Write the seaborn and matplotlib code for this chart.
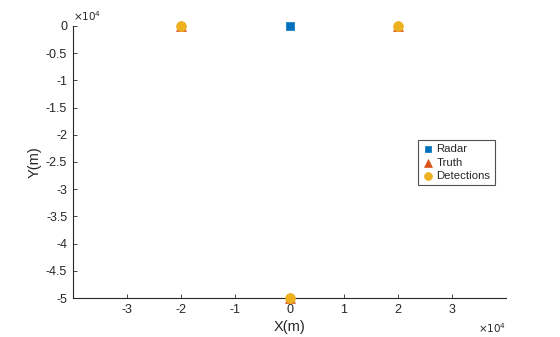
import matplotlib
matplotlib.use("Agg")
import matplotlib.pyplot as plt
import seaborn as sns
import pandas as pd

radar_x = [0]
radar_y = [0]
truth_x = [-20000, 20000, 0]
truth_y = [0, 0, -50000]
det_x = [-20000, 20000, 0]
det_y = [0, 0, -50000]
xticks = [-3, -2, -1, 0, 1, 2, 3]
yticks = [0, -0.5, -1, -1.5, -2, -2.5, -3, -3.5, -4, -4.5, -5]

sns.set_style("white")
plt.rcParams['font.family'] = ['Liberation Sans', 'DejaVu Sans']

fig = plt.figure(figsize=(5.6, 3.37), dpi=100)
ax = fig.add_axes([0.130, 0.1157, 0.774, 0.8073])

df_r = pd.DataFrame({"x": radar_x, "y": radar_y})
df_t = pd.DataFrame({"x": truth_x, "y": truth_y})
df_d = pd.DataFrame({"x": det_x, "y": det_y})

sns.scatterplot(data=df_r, x="x", y="y", marker="s", s=28, color="#0072BD",
                edgecolor="#0072BD", linewidth=0.5, ax=ax, label="Radar", clip_on=False, zorder=3)
sns.scatterplot(data=df_t, x="x", y="y", marker="^", s=50, color="#D95319",
                edgecolor="#D95319", linewidth=0.5, ax=ax, label="Truth", clip_on=False, zorder=3)
sns.scatterplot(data=df_d, x="x", y="y", marker="o", s=50, color="#EDB120",
                edgecolor="#EDB120", linewidth=0.5, ax=ax, label="Detections", clip_on=False, zorder=4)

ax.set_xlim(-40000, 40000)
ax.set_ylim(-50000, 0)
ax.set_xticks([v * 1e4 for v in xticks])
ax.set_xticklabels([f"{v:g}" for v in xticks])
ax.set_yticks([v * 1e4 for v in yticks])
ax.set_yticklabels([f"{v:g}" for v in yticks])

for s in ["top", "right"]:
    ax.spines[s].set_visible(False)
for s in ["left", "bottom"]:
    ax.spines[s].set_color("#262626")
    ax.spines[s].set_linewidth(0.8)
ax.tick_params(axis="both", direction="in", length=3, width=0.6, colors="#262626",
               labelsize=9, pad=4, left=True, bottom=True)

ax.set_xlabel("X(m)", fontsize=10.5, color="#262626", labelpad=3)
ax.set_ylabel("Y(m)", fontsize=10.5, color="#262626", labelpad=3)

ax.text(0.0, 1.01, r"$\times10^4$", transform=ax.transAxes, fontsize=7.5,
        color="#262626", ha="left", va="bottom")
ax.text(1.0, -0.085, r"$\times10^4$", transform=ax.transAxes, fontsize=7.5,
        color="#262626", ha="right", va="top")

leg = ax.legend(loc="upper left", bbox_to_anchor=(0.796, 0.58), fontsize=8.2,
                frameon=True, fancybox=False, edgecolor="#262626",
                borderpad=0.35, handletextpad=0.2, labelspacing=0.3,
                handlelength=1.1, borderaxespad=0, markerscale=0.8)
leg.get_frame().set_linewidth(0.8)

fig.savefig("out.png", dpi=100)
